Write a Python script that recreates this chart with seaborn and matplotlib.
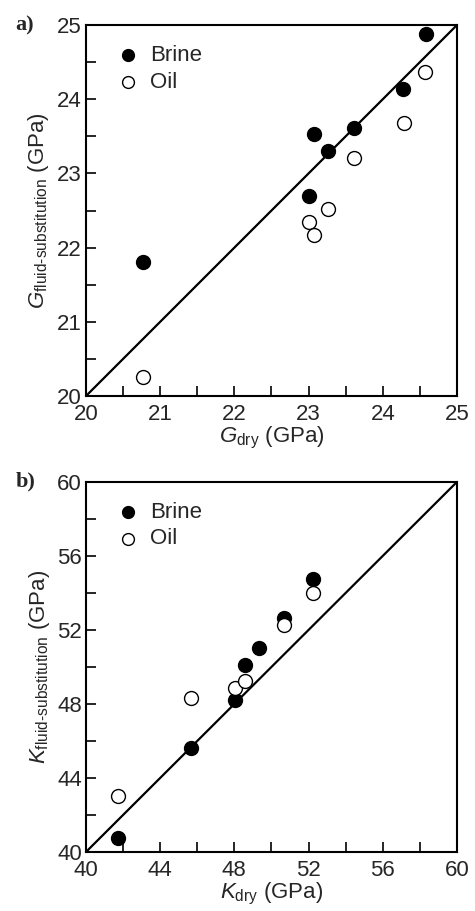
import numpy as np
import pandas as pd
import matplotlib
matplotlib.use("Agg")
import matplotlib.pyplot as plt
import seaborn as sns
from matplotlib.ticker import MultipleLocator

sns.set_style("white")
plt.rcParams["font.family"] = ["Liberation Sans", "DejaVu Sans"]
plt.rcParams["mathtext.fontset"] = "custom"
plt.rcParams["mathtext.rm"] = "Liberation Sans"
plt.rcParams["mathtext.it"] = "Liberation Sans:italic"

# panel a) shear modulus
g_dry_brine = [20.77, 23.00, 23.08, 23.26, 23.61, 24.27, 24.58]
g_fs_brine = [21.80, 22.70, 23.53, 23.30, 23.61, 24.14, 24.88]
g_dry_oil = [20.77, 23.00, 23.08, 23.26, 23.61, 24.28, 24.57]
g_fs_oil = [20.25, 22.35, 22.17, 22.52, 23.21, 23.68, 24.37]

# panel b) bulk modulus
k_dry_brine = [41.74, 45.67, 48.06, 48.58, 49.32, 50.68, 52.23]
k_fs_brine = [40.78, 45.62, 48.20, 50.13, 51.05, 52.67, 54.76]
k_dry_oil = [41.74, 45.67, 48.06, 48.58, 50.68, 52.23]
k_fs_oil = [43.03, 48.34, 48.86, 49.26, 52.29, 54.00]

fig = plt.figure(figsize=(4.75, 9.11), dpi=100)
ax_a = fig.add_axes([0.181, 0.5653, 0.781, 0.4072])
ax_b = fig.add_axes([0.181, 0.0648, 0.781, 0.4062])


def draw_panel(ax, xb, yb, xo, yo, lim, major, minor, sym, tag):
    ax.plot(lim, lim, color="black", lw=1.6, zorder=1)
    sns.scatterplot(x=xb, y=yb, ax=ax, color="black", edgecolor="black",
                    s=100, linewidth=1.0, label="Brine", zorder=3)
    sns.scatterplot(x=xo, y=yo, ax=ax, color="white", edgecolor="black",
                    s=100, linewidth=1.0, label="Oil", zorder=3)
    ax.set_xlim(lim)
    ax.set_ylim(lim)
    ax.xaxis.set_major_locator(MultipleLocator(major))
    ax.yaxis.set_major_locator(MultipleLocator(major))
    ax.xaxis.set_minor_locator(MultipleLocator(minor))
    ax.yaxis.set_minor_locator(MultipleLocator(minor))
    ax.tick_params(which="both", direction="in", length=7, width=1.4,
                   top=False, right=False, bottom=True, left=True,
                   labelsize=16)
    ax.tick_params(axis="x", pad=6)
    ax.tick_params(axis="y", pad=3)
    for sp in ax.spines.values():
        sp.set_linewidth(1.5)
        sp.set_color("black")
    ax.set_xlabel(r"$\it{%s}_{\mathrm{dry}}$ (GPa)" % sym, fontsize=16, labelpad=0)
    ax.set_ylabel(r"$\it{%s}_{\text{fluid-substitution}}$ (GPa)" % sym,
                  fontsize=16, labelpad=4)
    ax.legend(loc="upper left", frameon=False, fontsize=16,
              handletextpad=0.0, borderaxespad=0.5, labelspacing=0.25,
              markerscale=0.85)
    ax.text(-0.19, 1.0, tag, transform=ax.transAxes, fontsize=16,
            fontweight="bold", family="Liberation Serif", va="center")


draw_panel(ax_a, g_dry_brine, g_fs_brine, g_dry_oil, g_fs_oil,
           (20, 25), 1, 0.5, "G", "a)")
draw_panel(ax_b, k_dry_brine, k_fs_brine, k_dry_oil, k_fs_oil,
           (40, 60), 4, 2, "K", "b)")

fig.savefig("out.png", dpi=100)
